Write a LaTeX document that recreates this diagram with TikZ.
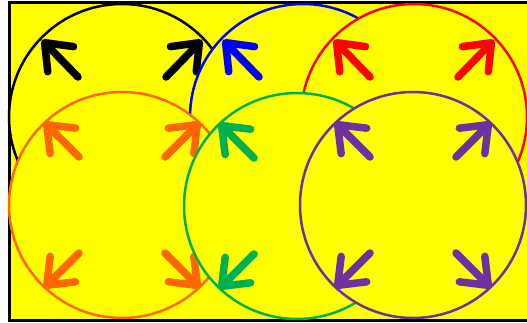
\documentclass[tikz,border=0pt]{standalone}
\usetikzlibrary{arrows.meta}
\definecolor{myyellow}{RGB}{255,255,0}
\definecolor{myblue}{RGB}{0,0,255}
\definecolor{myred}{RGB}{255,0,0}
\definecolor{myorange}{RGB}{255,102,0}
\definecolor{mygreen}{RGB}{0,176,80}
\definecolor{mypurple}{RGB}{112,48,160}
\newcommand\mkring[7]{%
  \node[ring=#2] (#1) at #3 {};
  \foreach \sx/\sy in {-1/-1,1/-1,-1/1,1/1}
    \draw[arr=#2] ([shift={(\sx*#4,\sy*#5)}]#1.center) -- ([shift={(\sx*#6,\sy*#7)}]#1.center);
}
\begin{document}
\begin{tikzpicture}[x=1pt,y=-1pt,
  ring/.style={circle, draw=#1, line width=2.5pt, fill=myyellow, minimum size=226pt, inner sep=0pt},
  arr/.style={draw=#1, line width=7.5pt, line cap=round, -{Straight Barb[length=23pt,width=36pt,round]}},
]
\useasboundingbox (0,0) rectangle (527,323);
\draw[line width=3pt, fill=myyellow] (9.5,2.5) rectangle (531,320);
\mkring{cblack}{black}{(122,117)}{44}{40}{80}{77}
\mkring{cblue}{myblue}{(303,117)}{44}{40}{80}{77}
\mkring{cred}{myred}{(414,117)}{44}{40}{80}{77}
\mkring{corange}{myorange}{(122,205)}{43}{48}{78}{83}
\mkring{cgreen}{mygreen}{(297,206)}{43}{48}{78}{83}
\mkring{cpurple}{mypurple}{(413,205)}{43}{48}{78}{83}
\end{tikzpicture}
\end{document}
